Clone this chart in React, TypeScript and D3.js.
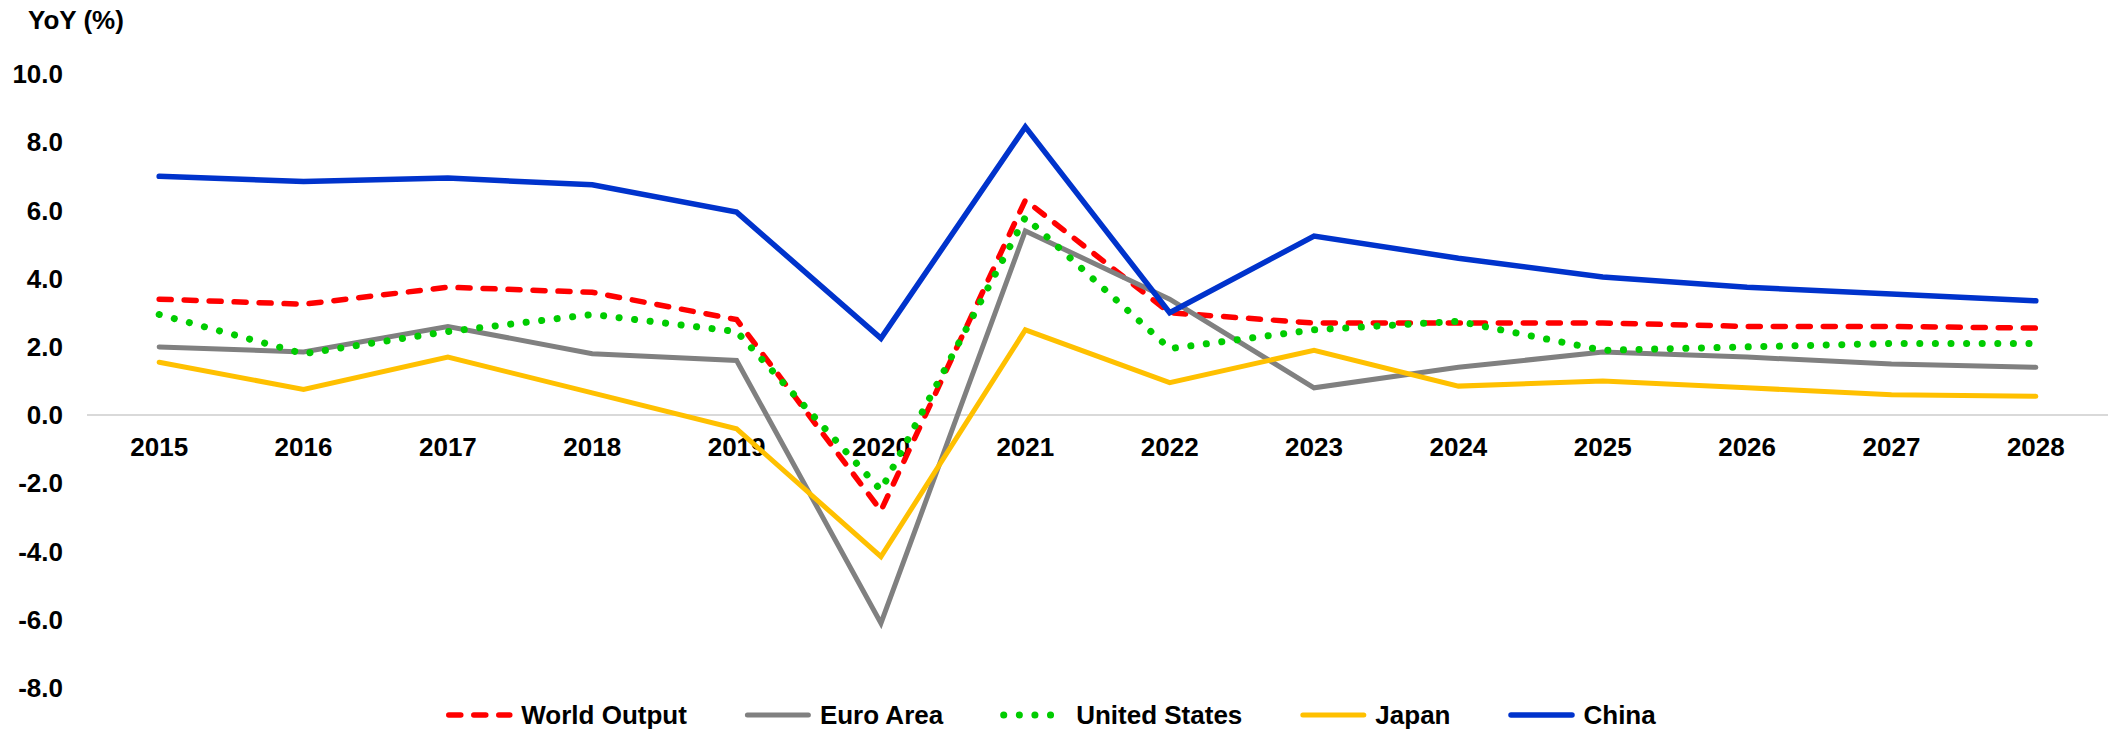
import * as d3 from 'd3';
import { useEffect, useRef } from 'react';

const years = ['2015', '2016', '2017', '2018', '2019', '2020', '2021', '2022', '2023', '2024', '2025', '2026', '2027', '2028'];
const yTicks = [-8, -6, -4, -2, 0, 2, 4, 6, 8, 10];

const worldOutput = [3.4, 3.25, 3.75, 3.6, 2.8, -2.8, 6.3, 3.0, 2.7, 2.7, 2.7, 2.6, 2.6, 2.55];
const euroArea = [2.0, 1.85, 2.6, 1.8, 1.6, -6.1, 5.4, 3.4, 0.8, 1.4, 1.85, 1.7, 1.5, 1.4];
const unitedStates = [2.95, 1.8, 2.45, 2.95, 2.45, -2.2, 5.8, 1.95, 2.5, 2.75, 1.9, 2.0, 2.1, 2.1];
const japan = [1.55, 0.75, 1.7, 0.65, -0.4, -4.15, 2.5, 0.95, 1.9, 0.85, 1.0, 0.8, 0.6, 0.55];
const china = [7.0, 6.85, 6.95, 6.75, 5.95, 2.25, 8.45, 3.0, 5.25, 4.6, 4.05, 3.75, 3.55, 3.35];

interface Series {
  name: string;
  values: number[];
  color: string;
  width: number;
  dash: string | null;
}

const series: Series[] = [
  { name: 'World Output', values: worldOutput, color: '#FF0000', width: 5.5, dash: '12,13' },
  { name: 'Euro Area', values: euroArea, color: '#808080', width: 5, dash: null },
  { name: 'United States', values: unitedStates, color: '#00CC00', width: 7, dash: '0.1,15.5' },
  { name: 'Japan', values: japan, color: '#FFC000', width: 5, dash: null },
  { name: 'China', values: china, color: '#0033CC', width: 5.5, dash: null },
];

const W = 2116;
const H = 730;
const FONT = '"Liberation Sans", Arial, sans-serif';

const App = () => {
  const svgRef = useRef<SVGSVGElement>(null);

  useEffect(() => {
    if (!svgRef.current) return;
    const svg = d3.select(svgRef.current);
    svg.selectAll('*').remove();

    const x = d3.scalePoint<string>().domain(years).range([87, 2108]).padding(0.5);
    const y = d3.scaleLinear().domain([-8, 10]).range([688, 74]);

    // zero line
    svg.append('line')
      .attr('x1', 87).attr('x2', 2108)
      .attr('y1', y(0)).attr('y2', y(0))
      .attr('stroke', '#D9D9D9').attr('stroke-width', 2);

    // y labels
    svg.append('g')
      .selectAll('text')
      .data(yTicks)
      .join('text')
      .attr('x', 63)
      .attr('y', (d) => y(d))
      .attr('dy', '0.35em')
      .attr('text-anchor', 'end')
      .attr('font-family', FONT)
      .attr('font-weight', 'bold')
      .attr('font-size', 26)
      .attr('fill', '#000')
      .text((d) => d.toFixed(1));

    // x labels
    svg.append('g')
      .selectAll('text')
      .data(years)
      .join('text')
      .attr('x', (d) => x(d) || 0)
      .attr('y', 456)
      .attr('text-anchor', 'middle')
      .attr('font-family', FONT)
      .attr('font-weight', 'bold')
      .attr('font-size', 26)
      .attr('fill', '#000')
      .text((d) => d);

    svg.append('text')
      .attr('x', 28).attr('y', 29)
      .attr('font-family', FONT)
      .attr('font-weight', 'bold')
      .attr('font-size', 26)
      .text('YoY (%)');

    const line = d3.line<number>()
      .x((_, i) => x(years[i]) || 0)
      .y((d) => y(d));

    series.forEach((s) => {
      svg.append('path')
        .datum(s.values)
        .attr('fill', 'none')
        .attr('stroke', s.color)
        .attr('stroke-width', s.width)
        .attr('stroke-linecap', 'round')
        .attr('stroke-dasharray', s.dash)
        .attr('d', line);
    });

    // legend
    const legend = svg.append('g');
    const lineLen = 66;
    const gapText = 9;
    const gapItem = 58;
    const ly = 715;
    let cx = 0;
    series.forEach((s) => {
      const item = legend.append('g').attr('transform', `translate(${cx},0)`);
      item.append('line')
        .attr('x1', 2.5).attr('x2', lineLen - 2.5)
        .attr('y1', ly).attr('y2', ly)
        .attr('stroke', s.color)
        .attr('stroke-width', s.width)
        .attr('stroke-linecap', 'round')
        .attr('stroke-dasharray', s.dash);
      const t = item.append('text')
        .attr('x', lineLen + gapText)
        .attr('y', ly)
        .attr('dy', '0.35em')
        .attr('font-family', FONT)
        .attr('font-weight', 'bold')
        .attr('font-size', 26)
        .text(s.name);
      const tw = (t.node() as SVGTextElement).getComputedTextLength();
      cx += lineLen + gapText + tw + gapItem;
    });
    const total = cx - gapItem;
    legend.attr('transform', `translate(${1051 - total / 2},0)`);
  }, []);

  return (
    <svg
      ref={svgRef}
      width={W}
      height={H}
      style={{ position: 'absolute', left: 0, top: 0, background: '#fff' }}
    />
  );
};

export default App;
